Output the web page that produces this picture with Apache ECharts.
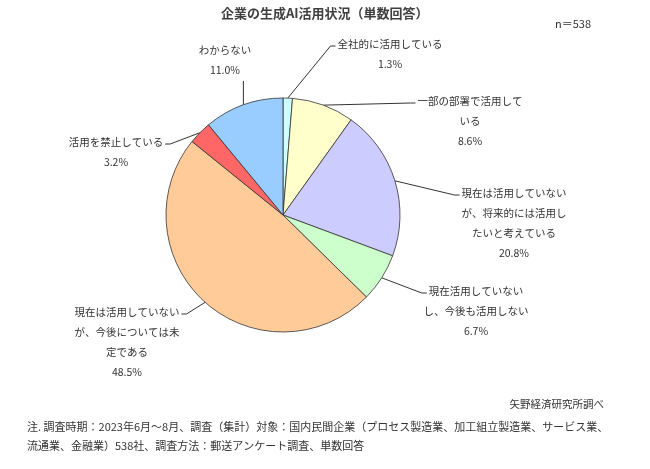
<!DOCTYPE html>
<html>
<head>
<meta charset="utf-8">
<script src="https://cdn.jsdelivr.net/npm/echarts@6/dist/echarts.min.js"></script>
<style>
html,body{margin:0;padding:0;background:#fff}
#chart{width:650px;height:469px}
</style>
</head>
<body>
<div id="chart"></div>
<script>
const categories=[
  "全社的に活用している",
  "一部の部署で活用している",
  "現在は活用していないが、将来的には活用したいと考えている",
  "現在活用していないし、今後も活用しない",
  "現在は活用していないが、今後については未定である",
  "活用を禁止している",
  "わからない"
];
// label text as wrapped in the original
const labelText=[
  "全社的に活用している",
  "一部の部署で活用して\nいる",
  "現在は活用していない\nが、将来的には活用し\nたいと考えている",
  "現在活用していない\nし、今後も活用しない",
  "現在は活用していない\nが、今後については未\n定である",
  "活用を禁止している",
  "わからない"
];
const values=[1.3,8.6,20.8,6.7,48.5,3.2,11.0];
const colors=["#ccffff","#ffffcc","#ccccff","#ccffcc","#ffcc99","#ff6666","#99ccff"];

// label block centres (layout only)
const labelPos=[[390,54],[470,121],[514,223],[476,311],[127,342],[116,152],[225,60]];

const font="'Noto Sans CJK JP', sans-serif";
const FS=10.5,LH=20;
const ctx=document.createElement("canvas").getContext("2d");
ctx.font=`${FS}px ${font}`;

const chart=echarts.init(document.querySelector("#chart"));

function leader(p){
  const i=p.dataIndex,[cx,cy]=labelPos[i];
  const txt=labelText[i].split("\n");
  const n=txt.length+1;
  const top=cy-n*LH/2;
  const s=p.labelLinePoints?p.labelLinePoints[0]:null;
  const out={x:cx,y:cy,align:"center",verticalAlign:"middle"};
  if(!s)return out;
  if(i===6){
    out.labelLinePoints=[s,[s[0],top+n*LH+1]];
    return out;
  }
  const fw=ctx.measureText(txt[0]).width;
  const ly=top+LH/2+2;
  if(cx>283){
    const ex=cx-fw/2-2;
    out.labelLinePoints=[s,[ex-5,ly],[ex,ly]];
  }else{
    const ex=cx+fw/2+2;
    out.labelLinePoints=[s,[ex+5,ly],[ex,ly]];
  }
  return out;
}

chart.setOption({
  animation:false,
  title:{
    text:"企業の生成AI活用状況（単数回答）",
    left:216,top:2,
    textStyle:{fontFamily:font,fontSize:13,fontWeight:"bold",color:"#404040"}
  },
  graphic:[
    {type:"text",left:555,top:18,style:{text:"n＝538",font:`11px ${font}`,fill:"#333"}},
    {type:"text",right:46,top:399,style:{text:"矢野経済研究所調べ",font:`10.5px ${font}`,fill:"#333"}},
    {type:"text",left:27,top:417,style:{
      text:"注. 調査時期：2023年6月～8月、調査（集計）対象：国内民間企業（プロセス製造業、加工組立製造業、サービス業、\n流通業、金融業）538社、調査方法：郵送アンケート調査、単数回答",
      font:`11px ${font}`,fill:"#333",lineHeight:19}}
  ],
  series:[{
    type:"pie",
    center:[283,215],
    radius:117,
    startAngle:90,
    clockwise:true,
    avoidLabelOverlap:false,
    itemStyle:{borderColor:"#333",borderWidth:0.8},
    emphasis:{disabled:true},
    label:{
      show:true,
      fontFamily:font,
      fontSize:FS,
      color:"#333",
      lineHeight:LH,
      align:"center",
      formatter:p=>`${labelText[p.dataIndex]}\n${p.value.toFixed(1)}%`
    },
    labelLine:{show:true,length:15,length2:10,lineStyle:{color:"#333",width:1}},
    labelLayout:leader,
    data:categories.map((c,i)=>({
      name:c,
      value:values[i],
      itemStyle:{color:colors[i]}
    }))
  }]
});
</script>
</body>
</html>
